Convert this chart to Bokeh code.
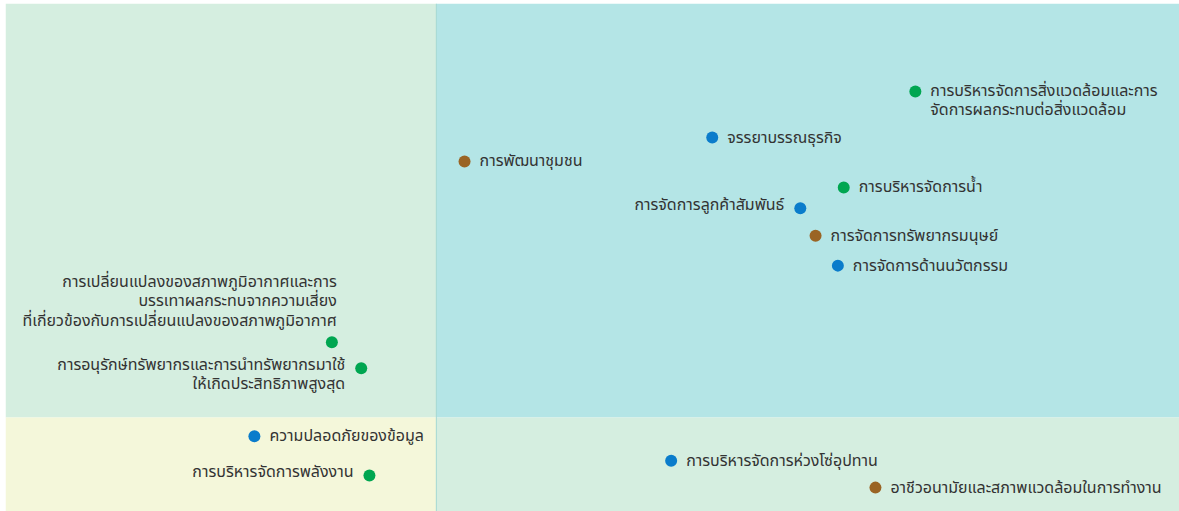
from bokeh.plotting import figure
from bokeh.models import Range1d, ColumnDataSource
from bokeh.core.properties import value
from bokeh.embed import file_html
from bokeh.resources import INLINE

# Materiality topics (x: importance to business, y: importance to stakeholders)
topics = [
    "การบริหารจัดการสิ่งแวดล้อมและการ\nจัดการผลกระทบต่อสิ่งแวดล้อม",
    "จรรยาบรรณธุรกิจ",
    "การพัฒนาชุมชน",
    "การบริหารจัดการน้ำ",
    "การจัดการลูกค้าสัมพันธ์",
    "การจัดการทรัพยากรมนุษย์",
    "การจัดการด้านนวัตกรรม",
    "การเปลี่ยนแปลงของสภาพภูมิอากาศและการ\nบรรเทาผลกระทบจากความเสี่ยง\nที่เกี่ยวข้องกับการเปลี่ยนแปลงของสภาพภูมิอากาศ",
    "การอนุรักษ์ทรัพยากรและการนำทรัพยากรมาใช้\nให้เกิดประสิทธิภาพสูงสุด",
    "ความปลอดภัยของข้อมูล",
    "การบริหารจัดการพลังงาน",
    "การบริหารจัดการห่วงโซ่อุปทาน",
    "อาชีวอนามัยและสภาพแวดล้อมในการทำงาน",
]
x_vals = [7.75, 6.02, 3.91, 7.14, 6.77, 6.90, 7.09, 2.78, 3.03, 2.12, 3.10, 5.67, 7.41]
y_vals = [8.27, 7.36, 6.89, 6.38, 5.97, 5.43, 4.84, 3.33, 2.82, 1.48, 0.71, 1.00, 0.47]
dimension = ["env", "gov", "soc", "env", "gov", "soc", "gov", "env", "env", "gov", "env", "gov", "soc"]
# label placement: r = right of dot, l = left of dot, a = above dot
label_side = ["r", "r", "r", "r", "l", "r", "r", "a", "l", "r", "l", "r", "r"]

x_min, x_max = 0.0, 10.0
y_min, y_max = 0.0, 10.0
x_split, y_split = 3.67, 1.85

dim_colors = {"env": "#00a651", "gov": "#0a7ccb", "soc": "#9a6424"}

p = figure(width=1179, height=511, output_backend="svg", toolbar_location=None,
           x_range=Range1d(x_min, x_max), y_range=Range1d(y_min, y_max),
           min_border=0, min_border_left=5, min_border_top=3, tools="")
p.axis.visible = False
p.grid.visible = False
p.outline_line_color = None
p.background_fill_color = "white"
p.border_fill_color = "white"

# quadrants
p.quad(left=[x_min, x_split, x_min, x_split], right=[x_split, x_max, x_split, x_max],
       bottom=[y_split, y_split, y_min, y_min], top=[y_max, y_max, y_split, y_split],
       fill_color=["#d5eee0", "#b4e5e6", "#f4f7da", "#d5eee0"], line_color=None)
p.segment(x0=[x_split], y0=[y_min], x1=[x_split], y1=[y_max], line_color="#a3d9d3", line_width=1)

colors = [dim_colors[d] for d in dimension]
src = ColumnDataSource(dict(x=x_vals, y=y_vals, c=colors))
p.scatter("x", "y", source=src, size=12, fill_color="c", line_color=None)

font = value("Noto Sans Thai")
groups = {
    "r": dict(align="left", dx=15),
    "l": dict(align="right", dx=-16),
    "a": dict(align="right", dx=5),
}
for side, g in groups.items():
    idx = [i for i, s in enumerate(label_side) if s == side]
    xs = [x_vals[i] for i in idx]
    ys = [y_vals[i] for i in idx]
    txt = [topics[i] for i in idx]
    nlines = [t.count("\n") for t in txt]
    if side == "a":
        yoff = [-(22 + 9.5 * n) for n in nlines]
    else:
        yoff = [9.5 * n - (3 if side == "l" else 0) for n in nlines]
    s = ColumnDataSource(dict(x=xs, y=ys, t=txt, yo=yoff))
    p.text("x", "y", text="t", source=s, text_font=font, text_font_size="16px",
           text_color="#333333", text_align=g["align"], text_baseline="middle",
           x_offset=g["dx"], y_offset="yo", text_line_height=0.8)

open("out.html", "w").write(file_html(p, INLINE))
